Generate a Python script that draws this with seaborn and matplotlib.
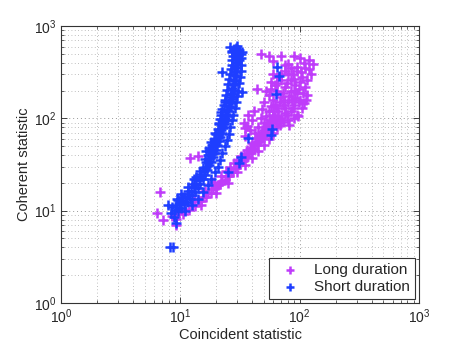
import matplotlib
matplotlib.use("Agg")
import matplotlib.pyplot as plt
import seaborn as sns

# Short duration (blue) points
short_x = [8.2, 8.7, 8.3, 8.8, 9.0, 9.2, 9.6, 9.8, 10.2, 10.4, 10.8, 11.0, 11.3, 11.6,
           12.0, 12.2, 12.6, 12.9, 13.3, 13.6, 14.0, 14.3, 14.7, 15.0, 15.4, 15.7,
           16.0, 16.4, 16.8, 17.0, 17.4, 17.7, 18.0, 18.3, 18.6, 18.9, 19.2, 19.5,
           19.8, 20.0, 20.4, 20.6, 21.0, 21.2, 21.6, 21.8, 22.2, 22.4, 22.8, 23.0,
           23.4, 23.6, 24.0, 24.1, 24.6, 24.7, 25.2, 25.3, 25.8, 25.8, 26.4, 26.3,
           27.0, 26.8, 27.5, 27.2, 28.0, 27.6, 28.4, 28.0, 28.8, 28.3, 29.2, 28.6,
           29.5, 28.9, 29.8, 29.0, 30.0, 29.2, 30.3, 29.5, 30.5, 28.0, 31.0, 26.0,
           30.0, 33.0, 22.5, 19.0, 17.5, 16.0, 14.5, 13.0, 11.5, 10.2, 9.3, 22.5,
           33.0, 31.0, 9.1, 7.8, 65.0, 67.0, 63.0, 59.0, 57.0, 37.0, 32.0, 31.0, 25.0,
           8.5, 9.5, 10.5, 11.5, 12.5, 13.5, 14.5, 15.5, 16.5, 17.0, 18.0, 18.5, 19.5,
           20.0, 20.5, 21.0, 21.5, 22.0, 22.5, 23.0, 23.5, 24.0, 24.5, 25.0, 25.5,
           26.0, 26.5, 27.0, 27.0, 27.5, 27.0,
           11.0, 12.5, 14.0, 15.5, 17.0, 18.0, 19.5, 20.5, 21.5, 22.5, 23.5, 24.5,
           25.5, 26.0, 27.0, 27.5, 28.5, 29.0, 30.0, 30.5, 31.0, 31.5, 32.0, 32.0,
           32.5, 32.0, 29.0, 27.0,
           16.5, 18.0, 19.5, 21.0, 22.0, 23.5]
short_y = [4.0, 4.0, 9.5, 8.5, 10.2, 11.5, 9.8, 12.0, 10.8, 12.8, 11.8, 14.0, 12.5, 15.0,
           13.5, 16.5, 14.8, 18.0, 16.0, 19.5, 17.5, 21.5, 19.5, 24.0, 22.0, 27.0,
           24.5, 30.0, 27.5, 33.5, 31.0, 37.0, 34.0, 41.0, 38.0, 45.0, 42.0, 50.0,
           46.0, 55.0, 51.0, 61.0, 57.0, 67.0, 63.0, 74.0, 70.0, 82.0, 78.0, 91.0,
           87.0, 101.0, 96.0, 112.0, 107.0, 124.0, 119.0, 138.0, 132.0, 153.0, 147.0, 170.0,
           164.0, 190.0, 183.0, 212.0, 205.0, 236.0, 229.0, 263.0, 256.0, 293.0, 285.0, 326.0,
           318.0, 363.0, 354.0, 404.0, 395.0, 450.0, 440.0, 500.0, 490.0, 560.0, 545.0, 600.0,
           610.0, 520.0, 95.0, 60.0, 48.0, 36.0, 27.0, 22.0, 18.0, 15.0, 13.5, 316.0,
           195.0, 430.0, 7.4, 11.6, 360.0, 285.0, 183.0, 76.0, 66.0, 62.0, 38.0, 33.0, 26.0,
           11.0, 13.0, 14.0, 16.5, 19.5, 23.0, 25.0, 29.0, 34.0, 40.0, 46.0, 52.0, 60.0,
           68.0, 76.0, 86.0, 98.0, 110.0, 125.0, 140.0, 160.0, 180.0, 205.0, 235.0, 265.0,
           300.0, 340.0, 380.0, 430.0, 480.0, 540.0,
           10.0, 11.5, 13.5, 16.0, 19.0, 22.0, 26.0, 30.0, 35.0, 42.0, 50.0, 58.0,
           68.0, 80.0, 95.0, 110.0, 130.0, 150.0, 175.0, 200.0, 240.0, 280.0, 330.0, 380.0,
           450.0, 500.0, 580.0, 520.0,
           44.0, 55.0, 70.0, 90.0, 118.0, 150.0]

# Long duration (magenta) points
long_x = [6.8, 6.4, 7.2, 9.1, 12.1, 14.1,
          8.5, 9.2, 9.8, 10.5, 11.0, 11.8, 12.5, 13.2, 14.0, 14.8, 15.5, 16.3, 17.0,
          18.0, 18.8, 19.8, 20.5, 21.5, 22.5, 23.5, 24.5, 25.5, 26.5, 27.5, 28.5,
          29.5, 30.5, 31.8, 32.8, 34.0, 35.2, 36.5, 37.5, 39.0, 40.0, 41.5, 42.5,
          44.0, 45.0, 46.5, 47.5, 49.0, 50.0, 51.5, 52.5, 54.0, 55.0, 56.5, 57.5,
          59.0, 60.0, 62.0,
          22.0, 26.0, 30.0, 34.0, 38.0, 42.0, 46.0, 50.0, 54.0, 19.0, 16.0, 13.0,
          47, 89, 129, 108, 60, 79, 55, 70, 100, 120, 85, 95, 110, 75, 60, 65, 70,
          80, 90, 100, 110, 105, 75, 85, 95, 65, 55, 50, 60, 70, 80, 90, 100, 85,
          75, 65, 55, 47, 50, 45, 42, 60, 70, 80, 95, 68, 38, 35, 44, 34, 35, 108,
          96, 115, 125, 90, 78, 72, 62, 58, 82, 92, 68, 76, 88, 66, 104, 52, 57, 48,
          63, 73, 37, 41, 36, 40,
          15, 20, 25, 30, 35, 40, 45, 50, 55, 60, 65, 68,
          18, 24, 28, 32, 36, 40, 44, 48, 52, 56, 60, 64,
          52, 58, 64, 70, 76, 84, 92, 98, 88, 94, 102, 115, 120, 106, 98, 112,
          74, 62, 58, 78, 86, 66, 72, 82, 90]
long_y = [16.0, 9.5, 8.0, 7.0, 37.7, 39.5,
          8.8, 8.2, 9.5, 9.2, 10.3, 10.2, 11.5, 11.3, 12.8, 12.6, 14.2, 14.0, 15.7,
          15.6, 17.3, 17.4, 19.2, 19.3, 21.2, 21.4, 23.5, 23.8, 26.0, 26.3, 28.8,
          29.0, 31.5, 31.8, 34.5, 35.0, 38.0, 38.5, 42.0, 42.5, 46.5, 47.0, 51.0,
          52.0, 56.0, 57.5, 62.0, 63.5, 68.0, 70.0, 75.0, 77.0, 83.0, 85.0, 92.0,
          94.0, 101.0, 104.0,
          24.0, 30.0, 35.0, 41.0, 48.0, 56.0, 64.0, 74.0, 84.0, 20.5, 16.5, 13.5,
          500, 470, 385, 400, 415, 385, 470, 480, 450, 430, 350, 330, 350, 380, 300, 280, 260,
          300, 270, 250, 220, 280, 220, 200, 190, 200, 180, 150, 160, 170, 150, 140, 160, 120,
          130, 130, 120, 100, 90, 80, 70, 110, 100, 95, 110, 85, 75, 65, 206, 90, 78, 148,
          105, 180, 300, 200, 240, 190, 230, 250, 175, 165, 150, 115, 130, 105, 130, 105, 135, 125,
          90, 92, 108, 120, 82, 95,
          11.5, 15.5, 20, 26, 31, 37, 44, 52, 60, 70, 80, 95,
          19.5, 27, 33, 39, 46, 54, 62, 72, 82, 95, 120, 95,
          200, 210, 240, 300, 330, 260, 230, 210, 300, 360, 320, 260, 340, 190, 150, 160,
          160, 140, 95, 110, 160, 120, 140, 85, 100]

long_color = "#BF3CFA"
short_color = "#1E3EFF"

sns.set_style("ticks")
plt.rcParams["font.family"] = ["Liberation Sans", "DejaVu Sans"]
plt.rcParams["mathtext.default"] = "regular"

fig, ax = plt.subplots(figsize=(4.63, 3.49), dpi=100)
fig.subplots_adjust(left=0.132, right=0.905, bottom=0.132, top=0.925)

sns.scatterplot(x=long_x, y=long_y, ax=ax, marker="+", s=45, linewidth=1.8,
                color=long_color, label="Long duration", zorder=3)
sns.scatterplot(x=short_x, y=short_y, ax=ax, marker="+", s=45, linewidth=1.8,
                color=short_color, label="Short duration", zorder=4)

ax.set_xscale("log")
ax.set_yscale("log")
ax.set_xlim(1, 1000)
ax.set_ylim(1, 1000)

ax.grid(True, which="major", linestyle=(0, (1, 3)), color="#999999", linewidth=0.7)
ax.grid(True, which="minor", linestyle=(0, (1, 3)), color="#aaaaaa", linewidth=0.6)
ax.set_axisbelow(True)

ax.tick_params(which="both", direction="in", top=True, right=True, labelsize=10)
ax.tick_params(which="major", length=4, width=0.6)
ax.tick_params(which="minor", length=2, width=0.5)
for sp in ax.spines.values():
    sp.set_linewidth(0.8)
    sp.set_color("#333333")

ax.set_xlabel("Coincident statistic", fontsize=10.5, labelpad=1)
ax.set_ylabel("Coherent statistic", fontsize=10.5, labelpad=2)

leg = ax.legend(loc="lower right", fontsize=11, fancybox=False, framealpha=1,
                edgecolor="#333333", borderaxespad=0.25, handletextpad=0.6,
                labelspacing=0.15, borderpad=0.35, markerscale=0.8)
leg.get_frame().set_linewidth(0.8)

fig.savefig("out.png", dpi=100)
